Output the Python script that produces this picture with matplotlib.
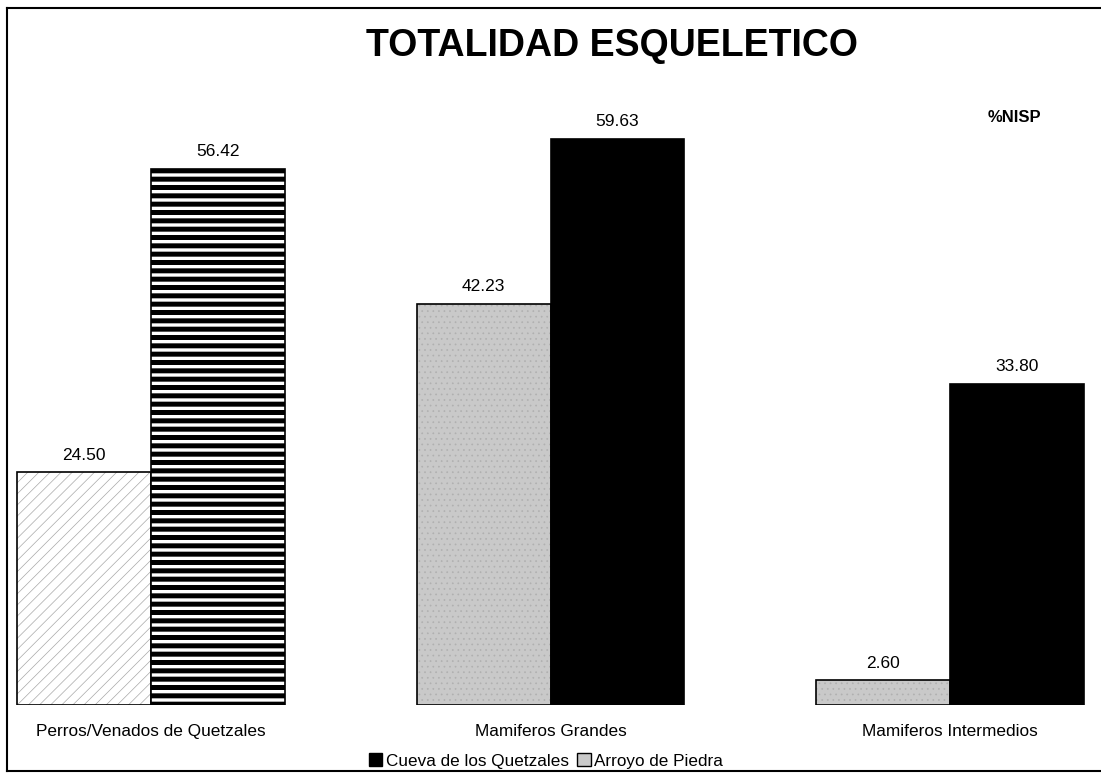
import matplotlib.pyplot as plt
import matplotlib as mpl
from matplotlib.patches import Patch
from matplotlib.lines import Line2D

plt.rcParams['font.family'] = ['Liberation Sans', 'DejaVu Sans']

categories = ['Perros/Venados de Quetzales', 'Mamiferos Grandes', 'Mamiferos Intermedios']
arroyo = [24.50, 42.23, 2.60]
cueva = [56.42, 59.63, 33.80]
series_names = ['Cueva de los Quetzales', 'Arroyo de Piedra']

W, H = 1101, 774
fig = plt.figure(figsize=(W / 100, H / 100), dpi=100)

# axes area in pixels: x 7..1101, baseline at y=705, top at y=100
ax = fig.add_axes([7 / W, (H - 705) / H, (W - 7) / W, 605 / H])
px_per_unit = 9.5
ax.set_ylim(0, 605 / px_per_unit)
ax.set_xlim((7 - 151) / 399.5, (W - 151) / 399.5)

width = 0.335
x = list(range(len(categories)))

def bar(xpos, h, face, hatch=None, hatch_color='black', hatch_lw=1.0):
    with mpl.rc_context({'hatch.linewidth': hatch_lw, 'hatch.color': hatch_color}):
        b = ax.bar(xpos, h, width, align='edge', color=face, edgecolor=hatch_color if hatch else face,
                   hatch=hatch, linewidth=0)[0]
        if hatch and hasattr(b, 'set_hatch_linewidth'):
            b.set_hatch_linewidth(hatch_lw)
    ax.bar(xpos, h, width, align='edge', fill=False, edgecolor='black', linewidth=1.2)
    return b

for i in x:
    if i == 0:
        bar(i - width, arroyo[i], 'white', hatch='///', hatch_color='#a8a8a8', hatch_lw=0.5)
        bar(i, cueva[i], 'white', hatch='--', hatch_color='black', hatch_lw=3.6)
    else:
        bar(i - width, arroyo[i], '#c9c9c9', hatch='...', hatch_color='#b0b0b0', hatch_lw=0.5)
        bar(i, cueva[i], 'black')

for i in x:
    ax.annotate(f'{arroyo[i]:.2f}', (i - width / 2, arroyo[i]), xytext=(0, 7),
                textcoords='offset points', ha='center', va='bottom', fontsize=12.5)
    ax.annotate(f'{cueva[i]:.2f}', (i + width / 2, cueva[i]), xytext=(0, 7),
                textcoords='offset points', ha='center', va='bottom', fontsize=12.5)

ax.set_xticks(x)
ax.set_xticklabels(categories, fontsize=12.4)
ax.tick_params(axis='x', length=0, pad=14)
ax.set_yticks([])
for s in ax.spines.values():
    s.set_visible(False)

fig.text(612 / W, 1 - 46 / H, 'TOTALIDAD ESQUELETICO', ha='center', va='center',
         fontsize=27, fontweight='bold')
fig.text(1014 / W, 1 - 118 / H, '%NISP', ha='center', va='center', fontsize=12, fontweight='bold')

handles = [Patch(facecolor='black', edgecolor='black'),
           Patch(facecolor='#c9c9c9', edgecolor='black')]
fig.legend(handles, series_names, loc='center', bbox_to_anchor=(546 / W, 1 - 761 / H),
           ncol=2, frameon=False, fontsize=12.3, handlelength=0.8, handleheight=0.8,
           handletextpad=0.2, columnspacing=0.5)

# outer border (left, top, bottom)
fig.add_artist(Line2D([7 / W, 7 / W], [1 - 8 / H, 1 - 771 / H], color='black', lw=1.5))
fig.add_artist(Line2D([7 / W, 1], [1 - 8 / H, 1 - 8 / H], color='black', lw=1.5))
fig.add_artist(Line2D([7 / W, 1], [1 - 771 / H, 1 - 771 / H], color='black', lw=1.5))

fig.savefig('out.png', dpi=100)
